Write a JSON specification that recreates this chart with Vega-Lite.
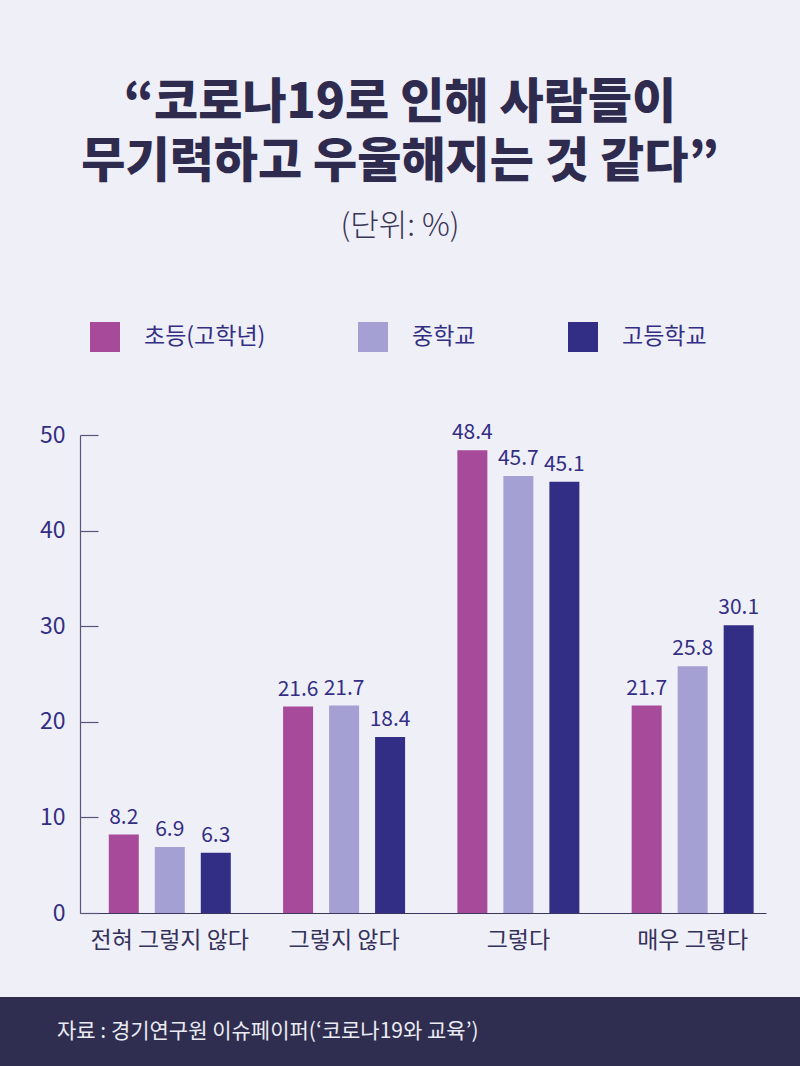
{
  "$schema": "https://vega.github.io/schema/vega-lite/v6.json",
  "background": "#efeff8",
  "padding": {"left": 0, "right": 0, "top": 80, "bottom": 0},
  "bounds": "flush",
  "spacing": 84,
  "title": {
    "text": ["“코로나19로 인해 사람들이", "무기력하고 우울해지는 것 같다”"],
    "subtitle": "(단위: %)",
    "anchor": "middle",
    "font": "Noto Sans CJK KR",
    "fontSize": 48,
    "fontWeight": 900,
    "color": "#2e2b4f",
    "lineHeight": 59,
    "subtitleFont": "Noto Sans CJK KR",
    "subtitleFontSize": 31,
    "subtitleFontWeight": 300,
    "subtitleColor": "#3a3656",
    "subtitlePadding": 25,
    "offset": 80
  },
  "config": {
    "view": {"stroke": null},
    "font": "Noto Sans CJK KR"
  },
  "vconcat": [
    {
      "width": 686,
      "height": 478,
      "data": {
        "values": [
          {"category": "전혀 그렇지 않다", "school": "초등(고학년)", "value": 8.2},
          {"category": "전혀 그렇지 않다", "school": "중학교", "value": 6.9},
          {"category": "전혀 그렇지 않다", "school": "고등학교", "value": 6.3},
          {"category": "그렇지 않다", "school": "초등(고학년)", "value": 21.6},
          {"category": "그렇지 않다", "school": "중학교", "value": 21.7},
          {"category": "그렇지 않다", "school": "고등학교", "value": 18.4},
          {"category": "그렇다", "school": "초등(고학년)", "value": 48.4},
          {"category": "그렇다", "school": "중학교", "value": 45.7},
          {"category": "그렇다", "school": "고등학교", "value": 45.1},
          {"category": "매우 그렇다", "school": "초등(고학년)", "value": 21.7},
          {"category": "매우 그렇다", "school": "중학교", "value": 25.8},
          {"category": "매우 그렇다", "school": "고등학교", "value": 30.1}
        ]
      },
      "encoding": {
        "x": {
          "field": "category",
          "type": "nominal",
          "sort": ["전혀 그렇지 않다", "그렇지 않다", "그렇다", "매우 그렇다"],
          "scale": {"paddingInner": 0.3, "paddingOuter": 0.118, "align": 0.7},
          "axis": {
            "title": null,
            "labelAngle": 0,
            "ticks": false,
            "domainColor": "#3a3660",
            "domainWidth": 1.2,
            "labelFontSize": 23,
            "labelColor": "#34315a",
            "labelPadding": 16,
            "labelLimit": 300
          }
        },
        "xOffset": {
          "field": "school",
          "type": "nominal",
          "sort": ["초등(고학년)", "중학교", "고등학교"],
          "scale": {"paddingInner": 0.348, "paddingOuter": 0}
        },
        "y": {
          "field": "value",
          "type": "quantitative",
          "scale": {"domain": [0, 50], "nice": false},
          "axis": {
            "title": null,
            "values": [0, 10, 20, 30, 40, 50],
            "grid": false,
            "domainColor": "#59557a",
            "domainWidth": 1.2,
            "tickColor": "#59557a",
            "tickSize": -18,
            "tickWidth": 1.2,
            "labelPadding": 33,
            "labelFontSize": 23,
            "labelColor": "#332e84"
          }
        }
      },
      "layer": [
        {
          "mark": {"type": "bar"},
          "encoding": {
            "color": {
              "field": "school",
              "type": "nominal",
              "scale": {
                "domain": ["초등(고학년)", "중학교", "고등학교"],
                "range": ["#a74a9a", "#a5a0d3", "#332e85"]
              },
              "legend": {
                "title": null,
                "orient": "none",
                "legendX": 10,
                "legendY": -113,
                "direction": "horizontal",
                "symbolType": "square",
                "symbolSize": 900,
                "symbolStrokeWidth": 0,
                "symbolOpacity": 1,
                "labelFontSize": 23,
                "labelColor": "#332e84",
                "labelOffset": 24,
                "labelLimit": 300,
                "columnPadding": 92
              }
            }
          }
        },
        {
          "mark": {
            "type": "text",
            "baseline": "alphabetic",
            "dy": -11,
            "fontSize": 21,
            "color": "#332e84"
          },
          "encoding": {
            "text": {"field": "value", "type": "quantitative", "format": ".1f"}
          }
        }
      ]
    },
    {
      "width": 686,
      "height": 69,
      "data": {"values": [{"note": "자료 : 경기연구원 이슈페이퍼(‘코로나19와 교육’)"}]},
      "layer": [
        {
          "mark": {"type": "rect", "color": "#2f2e50"},
          "encoding": {
            "x": {"datum": 0, "type": "quantitative", "scale": {"domain": [0, 1], "range": [-80, 720]}, "axis": null},
            "x2": {"datum": 1},
            "y": {"datum": 0, "type": "quantitative", "scale": {"domain": [0, 1]}, "axis": null},
            "y2": {"datum": 1}
          }
        },
        {
          "mark": {"type": "text", "align": "left", "baseline": "middle", "fontSize": 21, "color": "#ebebf3", "dx": 57},
          "encoding": {
            "text": {"field": "note", "type": "nominal"},
            "x": {"datum": 0, "type": "quantitative"},
            "y": {"datum": 0.5, "type": "quantitative"}
          }
        }
      ]
    }
  ]
}
